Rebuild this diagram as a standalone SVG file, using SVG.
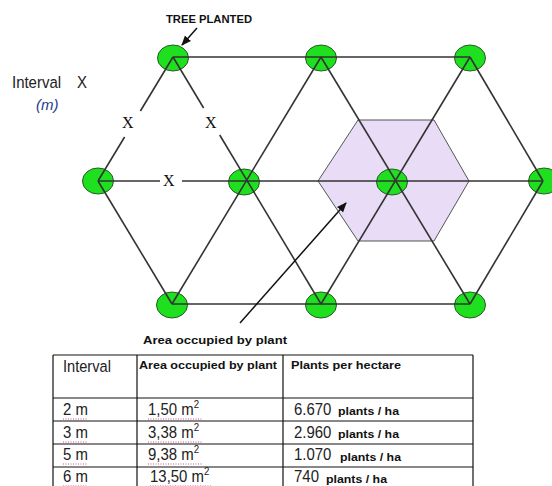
<svg xmlns="http://www.w3.org/2000/svg" width="552" height="486" viewBox="0 0 552 486">
<defs>
<style>
.ln{stroke:#333;stroke-width:1.6;fill:none}
.node{fill:#1ee01e;stroke:#2a5a2a;stroke-width:1}
.lbl{font-family:"Liberation Sans",Arial,sans-serif;font-weight:bold;font-size:11px;fill:#111}
.x{font-family:"Liberation Serif","Times New Roman",serif;font-size:16px;fill:#111}
.big{font-family:"Liberation Sans",Arial,sans-serif;font-size:17px;fill:#222}
.tb{stroke:#111;stroke-width:1.2;fill:none}
.sq{stroke:#d0508a;stroke-width:1;stroke-dasharray:1 1.5;fill:none}
</style>
<marker id="ah" markerWidth="10" markerHeight="10" refX="9" refY="5" orient="auto" markerUnits="userSpaceOnUse">
<path d="M0,1 L10,5 L0,9 Z" fill="#111"/>
</marker>
</defs>
<rect width="552" height="486" fill="#fff"/>
<g id="area-hexagon">
<polygon points="318,181 358,120 434,120 469,181 434,241 358,241" fill="#e8dcf6" stroke="#555" stroke-width="1"/>
</g>
<g id="nodes">
<g id="n-t1"><ellipse class="node" cx="173" cy="58" rx="15.5" ry="13"/></g>
<g id="n-t2"><ellipse class="node" cx="321" cy="58" rx="15.5" ry="13"/></g>
<g id="n-t3"><ellipse class="node" cx="470" cy="58" rx="15.5" ry="13"/></g>
<g id="n-m1"><ellipse class="node" cx="98" cy="181" rx="15.5" ry="13"/></g>
<g id="n-m2"><ellipse class="node" cx="244" cy="182" rx="15.5" ry="13"/></g>
<g id="n-m3"><ellipse class="node" cx="392" cy="182" rx="15.5" ry="13"/></g>
<g id="n-m4"><ellipse class="node" cx="544" cy="181" rx="15.5" ry="13"/></g>
<g id="n-b1"><ellipse class="node" cx="172" cy="305" rx="15.5" ry="13"/></g>
<g id="n-b2"><ellipse class="node" cx="321" cy="305" rx="15.5" ry="13"/></g>
<g id="n-b3"><ellipse class="node" cx="470" cy="305" rx="15.5" ry="13"/></g>
</g>
<g id="connectors">
<line class="ln" x1="173" y1="57" x2="470" y2="57"/>
<line class="ln" x1="172" y1="304" x2="470" y2="304"/>
<line class="ln" x1="98" y1="181" x2="160" y2="181"/>
<line class="ln" x1="182" y1="181" x2="543" y2="181"/>
<line class="ln" x1="173" y1="57" x2="140.4" y2="111"/>
<line class="ln" x1="124.6" y1="137" x2="98" y2="181"/>
<line class="ln" x1="98" y1="181" x2="172" y2="304"/>
<line class="ln" x1="173" y1="57" x2="203.6" y2="108"/>
<line class="ln" x1="219.7" y1="135" x2="321" y2="304"/>
<line class="ln" x1="321" y1="57" x2="172" y2="304"/>
<line class="ln" x1="321" y1="57" x2="470" y2="304"/>
<line class="ln" x1="470" y1="57" x2="321" y2="304"/>
<line class="ln" x1="470" y1="57" x2="543" y2="181"/>
<line class="ln" x1="543" y1="181" x2="470" y2="304"/>
<line x1="197" y1="28" x2="182" y2="45" stroke="#111" stroke-width="1.5" marker-end="url(#ah)"/>
<line x1="240" y1="323" x2="346" y2="203" stroke="#111" stroke-width="1.5" marker-end="url(#ah)"/>
</g>
<g id="labels">
<text class="lbl" x="166" y="23" textLength="86" lengthAdjust="spacingAndGlyphs">TREE PLANTED</text>
<text class="lbl" x="143" y="344" textLength="144" lengthAdjust="spacingAndGlyphs">Area occupied by plant</text>
<text class="big" transform="matrix(0.88 0 0 1 12 88)">Interval</text>
<text class="big" transform="matrix(0.88 0 0 1 77 88)">X</text>
<text x="36" y="110" font-family="Liberation Sans,Arial,sans-serif" font-size="15" font-style="italic" fill="#1e3c8c">(m)</text>
<text class="x" x="122" y="128">X</text>
<text class="x" x="205" y="128">X</text>
<text class="x" x="163" y="186">X</text>
</g>
<g id="table">
<line class="tb" x1="53" y1="355" x2="473" y2="355"/>
<line class="tb" x1="53" y1="398" x2="473" y2="398"/>
<line class="tb" x1="53" y1="421" x2="473" y2="421"/>
<line class="tb" x1="53" y1="444" x2="473" y2="444"/>
<line class="tb" x1="53" y1="467" x2="473" y2="467"/>
<line class="tb" x1="53" y1="355" x2="53" y2="486"/>
<line class="tb" x1="137" y1="355" x2="137" y2="486"/>
<line class="tb" x1="283" y1="355" x2="283" y2="486"/>
<line class="tb" x1="473" y1="355" x2="473" y2="486"/>
<text class="big" font-size="18" transform="matrix(0.86 0 0 1 63 372)">Interval</text>
<text class="lbl" x="139" y="369" textLength="138" lengthAdjust="spacingAndGlyphs">Area occupied by plant</text>
<text class="lbl" x="291" y="369" textLength="110" lengthAdjust="spacingAndGlyphs">Plants per hectare</text>
<text class="big" transform="matrix(0.88 0 0 1 63 415)">2 m</text>
<text class="big" transform="matrix(0.88 0 0 1 63 438)">3 m</text>
<text class="big" transform="matrix(0.88 0 0 1 63 460)">5 m</text>
<text class="big" transform="matrix(0.88 0 0 1 63 482)">6 m</text>
<text class="big" transform="matrix(0.88 0 0 1 148 415)">1,50 m<tspan font-size="11" dy="-7">2</tspan></text>
<text class="big" transform="matrix(0.88 0 0 1 148 438)">3,38 m<tspan font-size="11" dy="-7">2</tspan></text>
<text class="big" transform="matrix(0.88 0 0 1 148 460)">9,38 m<tspan font-size="11" dy="-7">2</tspan></text>
<text class="big" transform="matrix(0.88 0 0 1 150 482)">13,50 m<tspan font-size="11" dy="-7">2</tspan></text>
<text class="big" transform="matrix(0.88 0 0 1 294 415)">6.670</text>
<text class="lbl" x="338" y="415" textLength="61" lengthAdjust="spacingAndGlyphs">plants / ha</text>
<text class="big" transform="matrix(0.88 0 0 1 294 438)">2.960</text>
<text class="lbl" x="338" y="438" textLength="61" lengthAdjust="spacingAndGlyphs">plants / ha</text>
<text class="big" transform="matrix(0.88 0 0 1 294 460)">1.070</text>
<text class="lbl" x="340" y="461" textLength="61" lengthAdjust="spacingAndGlyphs">plants / ha</text>
<text class="big" transform="matrix(0.88 0 0 1 294 482)">740</text>
<text class="lbl" x="326" y="483" textLength="61" lengthAdjust="spacingAndGlyphs">plants / ha</text>
<path class="sq" d="M63,419 H88 M63,442 H88 M63,464 H88 M63,486 H88 M148,419 H202 M148,442 H202 M148,464 H202 M150,486 H212"/>
</g>
</svg>
